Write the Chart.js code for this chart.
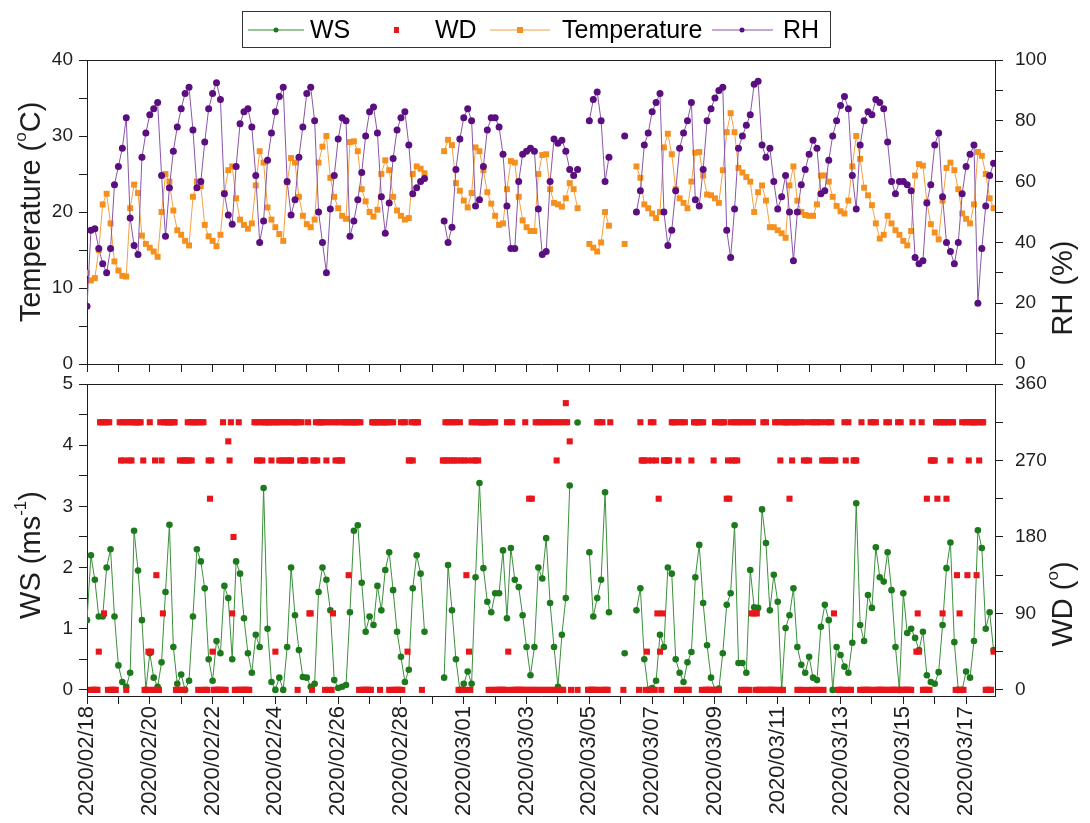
<!DOCTYPE html>
<html>
<head>
<meta charset="utf-8">
<script src="https://cdn.jsdelivr.net/npm/chart.js@4.4.0/dist/chart.umd.min.js"></script>
<style>
  html,body{margin:0;padding:0;background:#fff;}
  #wrap{position:relative;width:1090px;height:823px;overflow:hidden;background:#fff;}
  canvas{position:absolute;left:0;}
  #topChart{top:0;}
  #bottomChart{top:364px;}
</style>
</head>
<body>
<div id="wrap">
  <canvas id="topChart" width="1090" height="380" style="width:1090px;height:380px"></canvas>
  <canvas id="bottomChart" width="1090" height="459" style="width:1090px;height:459px"></canvas>
</div>
<script>
// x axis: days after 2020/02/18 00:00, data every 3 hours (8 per day)
const dateLabels = ['2020/02/18','2020/02/20','2020/02/22','2020/02/24','2020/02/26','2020/02/28',
  '2020/03/01','2020/03/03','2020/03/05','2020/03/07','2020/03/09','2020/03/11','2020/03/13',
  '2020/03/15','2020/03/17'];

// relative humidity (%), 3-hourly
const rh = [
  19,44,44.5,38,33,30,38,59,        // 02/18
  65,71,81,48,39,36,68,76,          // 02/19
  82,84,86,62,42,58,70,78,          // 02/20
  84,89,91,77,58,60,73,84,          // 02/21
  89,92.5,87,56,49,46,65,79,        // 02/22
  83,84,78,62,40,47,67,76,          // 02/23
  83,88,91,60,49,54,68,78,          // 02/24
  89,91,80,50,40,30,51,62,          // 02/25
  74,81,80,42,47,54,63,75,          // 02/26
  83,84.5,76,55,43,53,67.6,77,      // 02/27
  81,83,72,56,58,60,61,null,        // 02/28
  null,null,null,47,40,45,64,74,    // 02/29
  81,84,80,52,54,65,77,81,          // 03/01
  81,78,69,52,38,38,60,69,          // 03/02
  70,71,70,51,36,37,60,74,          // 03/03
  72.6,73.6,70,64,62,64,null,null,  // 03/04
  80,87,89.5,80,60,68,null,null,    // 03/05
  null,75,null,null,50,57,72,76,    // 03/06
  83,86,89,50,39,44,57,71,          // 03/07
  76,80,86,54,52,64,80,84,          // 03/08
  87.5,90,91,44,35,51,71,75,        // 03/09
  78.5,82,92,93,72,68,71,60,        // 03/10
  51,55,62,50,34,50,59,64,          // 03/11
  69,73.6,71,56,57,67,75,80,        // 03/12
  85,88,84,62,51,72,80,83,          // 03/13
  82,87,86,84,73,60,56,60,          // 03/14
  60,59,57,35,33,34,53,59,          // 03/15
  72,76,55,40,37,33,40,56,          // 03/16
  65,69,72,20,38,52,62,66           // 03/17
];

// temperature (degC), 3-hourly
const temperature = [
  12,11,11.3,15,21,22.4,18.5,13.5,
  12.3,11.6,11.5,20.5,23.6,22.5,16.9,15.8,
  15.3,14.8,14.1,20,25,24,20.2,17.6,
  17,16.2,15.6,22,24,23.4,18.3,16.8,
  16.2,15.5,17,22.5,25.5,26,21.8,19,
  18.3,17.8,18.5,23.5,28,26.5,20.6,19,
  18,17.1,16.2,23.9,27.1,26.5,22,19.5,
  18.4,18,19,26.5,28.6,30,24.5,22,
  20.5,19.5,19.1,29.2,29.3,28,23,21.4,
  20,19.4,20.3,25,26.8,25.5,22,20.2,
  19.5,19,19.2,25,26,25.7,25.1,null,
  null,null,null,28,29.5,28.8,23.8,22.8,
  21.5,20.6,22.5,28.5,28,25.5,22.6,21.1,
  19.5,18.3,18.5,23,26.7,26.5,22,18.9,
  18,17.5,17.5,25,27.5,27.6,23,21.2,
  21,20.7,21.8,23.8,23,20.5,null,null,
  15.8,15.3,14.8,16,20,18.2,null,null,
  null,15.8,null,null,26,24.5,21,20.5,
  19.8,19.2,20,28.5,30.3,27.6,23,21.8,
  21.2,20.5,24,27.8,27.9,24.8,22.3,22.2,
  21.8,21.2,25.5,30.5,33,30.5,25.8,25.2,
  24.6,24,20,22.6,23.5,21.5,18,18,
  17.6,17.2,16.6,23.5,26,21.5,20,19.6,
  19.5,19.5,21,24.8,24.8,24,22,20.8,
  20.1,19.8,21.5,26,30,27,23.2,22.2,
  20.9,18.5,16.5,17,19.5,18.5,17.6,17,
  16.2,15.6,17.5,24.8,26.3,26.1,21.3,18.4,
  17.3,16.4,21.5,25.8,26.5,25.5,23,19.8,
  19.1,18.5,21,27.9,27.4,25,21.8,20.5
];

// wind speed (m/s), 3-hourly
const ws = [
  1.14,2.2,1.8,1.2,1.2,2.0,2.3,1.2,
  0.4,0.13,0.05,0.28,2.6,1.95,1.14,0,
  0.6,0.2,0.05,0.45,1.6,2.7,0.7,0.1,
  0.25,0,0.15,1.2,2.3,2.1,1.66,0.5,
  0.15,0.8,0.6,1.7,1.5,0.5,2.1,1.9,
  1.17,0.6,0.28,0.9,0.7,3.3,1.0,0.13,
  0,0.2,0,0.7,2.0,1.22,0.65,0.21,
  0.2,0.05,0.1,1.6,2.0,1.8,1.3,0.16,
  0.03,0.05,0.08,1.27,2.6,2.69,1.75,0.95,
  1.2,1.06,1.7,1.3,1.96,2.25,1.63,0.95,
  0.54,0.13,0.33,1.66,2.2,1.9,0.95,null,
  null,null,null,0.2,2.04,1.3,0.5,0,
  0.1,0.3,0.1,1.84,3.38,1.99,1.44,1.27,
  1.58,1.58,2.28,1.17,2.32,1.8,1.68,1.22,
  0.7,0.24,0.7,2.0,1.82,2.48,1.42,0.7,
  0.05,0.9,1.5,3.34,null,4.37,null,null,
  2.25,1.2,1.5,1.8,3.23,1.27,null,null,
  null,0.6,null,null,1.3,1.66,0.5,0,
  0.03,0.15,0.9,0.7,2.0,1.9,0.5,0.28,
  0.13,0.45,0.62,1.84,2.37,1.42,0.73,0.2,
  0,0.02,0.6,1.39,1.58,2.69,0.44,0.44,
  0.28,1.96,1.35,1.34,2.95,2.4,1.3,1.88,
  1.44,0,1.01,1.22,1.66,0.7,0.41,0.28,
  0.54,0.2,0.16,1.03,1.39,1.14,0,0.7,
  0.57,0.38,0.28,0.77,3.05,1.06,0.8,1.55,
  1.34,2.33,1.84,1.77,2.25,1.63,0.7,0,
  1.58,0.93,1.0,0.85,0.65,0.95,0.24,0.13,
  0.1,0.29,1.06,1.99,2.41,0.78,0,0,
  0.3,0.2,0.8,2.61,2.32,1.0,1.27,0.65
];

// wind direction, hourly; each char is an index into wdLevels, '.' = no data
const wdLevels = [0,45,90,135,180,225,270,292.5,315,337.5];
const wdCodes = [
  '...00000018882880800000.', // 02/18
  '.86868086868888888.60001', // 02/19
  '810063008628888888880006', // 02/20
  '060668686888808088000656', // 02/21
  '10000000800.768240008000', // 02/22
  '00000...8868686888888688', // 02/23
  '188686868686688880868666', // 02/24
  '.82206686888880680802868', // 02/25
  '686688883888888808000000', // 02/26
  '008888880888888080800000', // 02/27
  '8088.166868888..0.......', // 02/28
  '........6686868686860860', // 02/29
  '603610868686888888808080', // 03/01
  '800000000818080000000008', // 03/02
  '005050080808080808080806', // 03/03
  '80800898.70....0.......0', // 03/04
  '000000808080000.8.......', // 03/05
  '..0...........0866601608', // 03/06
  '68062510266666.888806808', // 03/07
  '08000.6.8888880800000006', // 03/08
  '80808888.565868686880808', // 03/09
  '080828202000080800000080', // 03/10
  '806808888586888080806860', // 03/11
  '680808080860686868626.00', // 03/12
  '000860800.666..080000008', // 03/13
  '080800000008080000008080', // 03/14
  '00000008..121.8000500666', // 03/15
  '685888288588688.03020808', // 03/16
  '83688888386888.00000.1..'  // 03/17
];

const FONT = "'Liberation Sans', Arial, sans-serif";
const INK = '#1e1e1e';
Chart.defaults.font.family = FONT;
Chart.defaults.color = INK;

const xMax = 28.92;
const per3h = v => v.map((y, i) => ({ x: i / 8, y: y }));
const wdPoints = [];
wdCodes.forEach((row, d) => {
  for (let h = 0; h < row.length; h++) {
    if (row[h] !== '.') wdPoints.push({ x: d + h / 24, y: wdLevels[+row[h]] });
  }
});

function fixWidth(w){
  return s => { s.width = w; s.paddingTop = 0; s.paddingBottom = 0; };
}
function fixHeight(h){
  return s => { s.height = h; s.paddingLeft = 0; s.paddingRight = 0; };
}
const axisGrid = { drawOnChartArea: false, drawTicks: true, tickLength: 8, color: INK, lineWidth: 1 };
const axisBorder = { display: true, color: INK, width: 1 };

function richText(ctx, parts, cx, cy, size){
  ctx.save();
  ctx.translate(cx, cy);
  ctx.rotate(-Math.PI / 2);
  let w = 0;
  parts.forEach(p => {
    ctx.font = (p.sup ? Math.round(size * 0.6) : size) + 'px ' + FONT;
    p.w = ctx.measureText(p.t).width; w += p.w;
  });
  let x = -w / 2;
  ctx.fillStyle = INK;
  ctx.textBaseline = 'middle';
  ctx.textAlign = 'left';
  parts.forEach(p => {
    ctx.font = (p.sup ? Math.round(size * 0.6) : size) + 'px ' + FONT;
    ctx.fillText(p.t, x, p.sup ? -size * 0.38 : 0);
    x += p.w;
  });
  ctx.restore();
}

const framePlugin = {
  id: 'frame',
  afterDraw(chart){
    const { ctx, chartArea: a } = chart;
    ctx.save();
    ctx.strokeStyle = INK; ctx.lineWidth = 1;
    ctx.beginPath();
    ctx.moveTo(a.left, Math.round(a.top) + 0.5);
    ctx.lineTo(a.right, Math.round(a.top) + 0.5);
    ctx.stroke();
    ctx.restore();
  }
};

const TITLE = 29;

const topTitles = {
  id: 'topTitles',
  afterDraw(chart){
    const ctx = chart.ctx;
    richText(ctx, [{t:'Temperature ('},{t:'o',sup:true},{t:'C)'}], 32, 212, TITLE);
    richText(ctx, [{t:'RH (%)'}], 1064, 288, TITLE);
    // legend box
    ctx.save();
    ctx.strokeStyle = '#333'; ctx.lineWidth = 1;
    ctx.strokeRect(242.5, 11.5, 588, 36);
    const y = 30;
    ctx.lineWidth = 1.2;
    const line = (x0, x1, c) => { ctx.strokeStyle = c; ctx.beginPath(); ctx.moveTo(x0, y); ctx.lineTo(x1, y); ctx.stroke(); };
    line(248, 304, '#2f8f2f');
    ctx.fillStyle = '#1c7a1c'; ctx.beginPath(); ctx.arc(276, y, 2.5, 0, Math.PI*2); ctx.fill();
    ctx.fillStyle = '#e31a1c'; ctx.fillRect(394, y - 3, 5, 6);
    line(490, 550, '#f5a040');
    ctx.fillStyle = '#f5901e'; ctx.fillRect(517, y - 3, 6, 6);
    line(712, 773, '#8a55a8');
    ctx.fillStyle = '#5b0e80'; ctx.beginPath(); ctx.arc(742, y, 2.5, 0, Math.PI*2); ctx.fill();
    ctx.fillStyle = '#000';
    ctx.font = '25px ' + FONT;
    ctx.textBaseline = 'middle';
    ctx.fillText('WS', 310, y + 1);
    ctx.fillText('WD', 435, y + 1);
    ctx.fillText('Temperature', 562, y + 1);
    ctx.fillText('RH', 783, y + 1);
    ctx.restore();
  }
};

const bottomTitles = {
  id: 'bottomTitles',
  afterDraw(chart){
    const ctx = chart.ctx;
    richText(ctx, [{t:'WS (ms'},{t:'-1',sup:true},{t:')'}], 32, 191, TITLE);
    richText(ctx, [{t:'WD ('},{t:'o',sup:true},{t:')'}], 1064, 240, TITLE);
  }
};

const tickFont = { size: 19 };

new Chart(document.getElementById('topChart'), {
  type: 'scatter',
  data: {
    datasets: [
      { label: 'RH', data: per3h(rh), yAxisID: 'yRH', showLine: true, order: 0,
        borderColor: '#8a55a8', borderWidth: 1, pointStyle: 'circle', pointRadius: 3.5,
        pointBackgroundColor: '#5b0e80', pointBorderWidth: 0 },
      { label: 'Temperature', data: per3h(temperature), yAxisID: 'yT', showLine: true, order: 1,
        borderColor: '#f5a040', borderWidth: 1, pointStyle: 'rect', pointRadius: 4.2,
        pointBackgroundColor: '#f5901e', pointBorderWidth: 0 }
    ]
  },
  options: {
    responsive: false, animation: false, events: [],
    layout: { padding: { top: 60, left: 0, right: 0, bottom: 0 } },
    plugins: { legend: { display: false }, tooltip: { enabled: false } },
    scales: {
      x: { type: 'linear', min: 0, max: xMax, position: 'bottom',
        ticks: { stepSize: 1, includeBounds: false, autoSkip: false, callback: () => '' },
        grid: axisGrid, border: axisBorder, afterFit: fixHeight(16) },
      yT: { type: 'linear', position: 'left', min: 0, max: 40,
        ticks: { stepSize: 5, font: tickFont, padding: 6, callback: v => v % 10 === 0 ? v : '' },
        grid: axisGrid, border: axisBorder, afterFit: fixWidth(87) },
      yRH: { type: 'linear', position: 'right', min: 0, max: 100,
        ticks: { stepSize: 10, font: tickFont, padding: 12, callback: v => v % 20 === 0 ? v : '' },
        grid: axisGrid, border: axisBorder, afterFit: fixWidth(95) }
    }
  },
  plugins: [framePlugin, topTitles]
});

new Chart(document.getElementById('bottomChart'), {
  type: 'scatter',
  data: {
    datasets: [
      { label: 'WD', data: wdPoints, yAxisID: 'yWD', showLine: false, order: 0,
        pointStyle: 'rect', pointRadius: 4.3, pointBackgroundColor: '#e8161b', pointBorderWidth: 0 },
      { label: 'WS', data: per3h(ws), yAxisID: 'yWS', showLine: true, order: 1,
        borderColor: '#3a8f3a', borderWidth: 1, pointStyle: 'circle', pointRadius: 3.3,
        pointBackgroundColor: '#1c7a1c', pointBorderWidth: 0 }
    ]
  },
  options: {
    responsive: false, animation: false, events: [],
    layout: { padding: { top: 20, left: 0, right: 0, bottom: 0 } },
    plugins: { legend: { display: false }, tooltip: { enabled: false } },
    scales: {
      x: { type: 'linear', min: 0, max: xMax, position: 'bottom',
        ticks: { stepSize: 1, includeBounds: false, autoSkip: false, maxRotation: 90, minRotation: 90,
          padding: 2, font: { size: 22 },
          callback: v => { const d = Math.round(v); return d % 2 === 0 ? dateLabels[d / 2] : ''; } },
        grid: axisGrid, border: axisBorder, afterFit: fixHeight(127) },
      yWS: { type: 'linear', position: 'left', min: -0.1, max: 5,
        ticks: { stepSize: 0.5, includeBounds: false, font: tickFont, padding: 6,
          callback: v => Math.abs(v - Math.round(v)) < 1e-6 ? Math.round(v) : '' },
        grid: axisGrid, border: axisBorder, afterFit: fixWidth(87) },
      yWD: { type: 'linear', position: 'right', min: -7.2, max: 360,
        ticks: { stepSize: 45, includeBounds: false, font: tickFont, padding: 12,
          callback: v => v % 90 === 0 ? v : '' },
        grid: axisGrid, border: axisBorder, afterFit: fixWidth(95) }
    }
  },
  plugins: [framePlugin, bottomTitles]
});
</script>
</body>
</html>
